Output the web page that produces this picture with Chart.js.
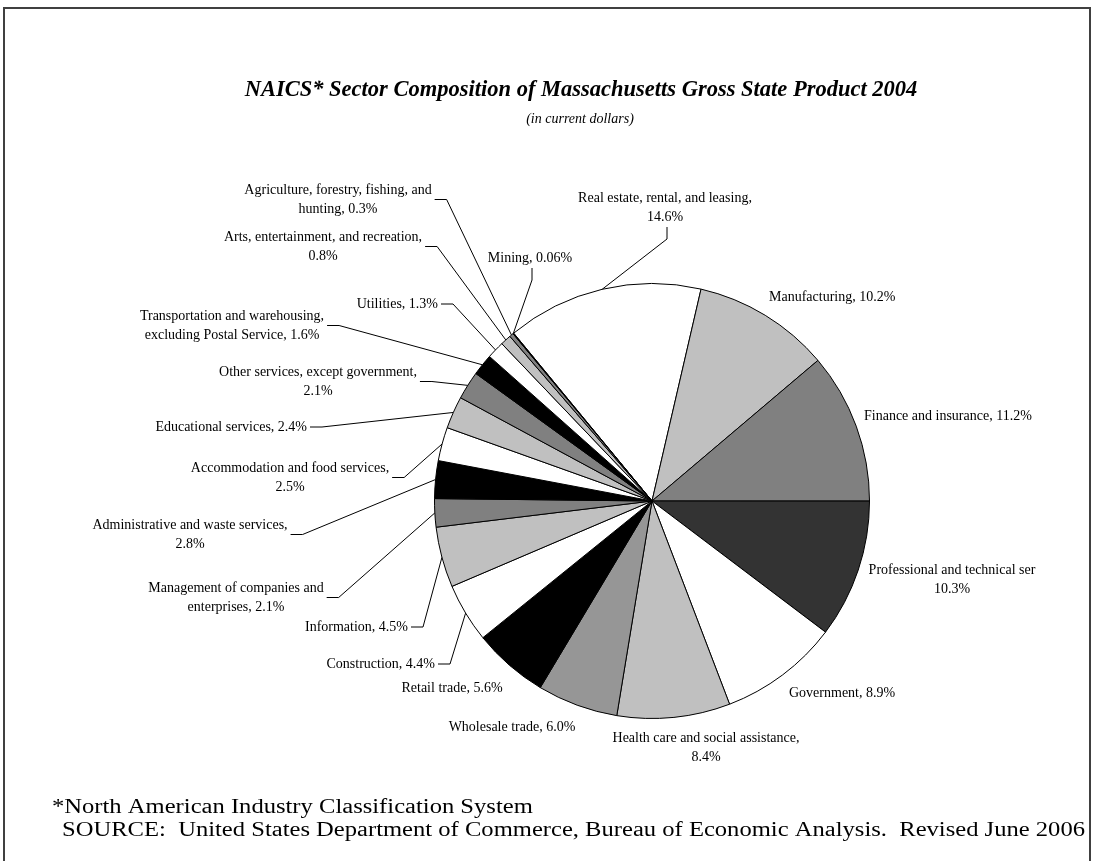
<!DOCTYPE html>
<html>
<head>
<meta charset="utf-8">
<script src="https://cdn.jsdelivr.net/npm/chart.js@4.4.1/dist/chart.umd.min.js"></script>
<style>
  html, body { margin: 0; padding: 0; background: #fff; }
  canvas { display: block; }
</style>
</head>
<body>
<canvas id="gspChart" width="1093" height="861"></canvas>
<script>
// data, in clockwise order from the top-left edge of the real estate slice
const sectors = [
  'Real estate, rental, and leasing',
  'Manufacturing',
  'Finance and insurance',
  'Professional and technical services',
  'Government',
  'Health care and social assistance',
  'Wholesale trade',
  'Retail trade',
  'Construction',
  'Information',
  'Management of companies and enterprises',
  'Administrative and waste services',
  'Accommodation and food services',
  'Educational services',
  'Other services, except government',
  'Transportation and warehousing, excluding Postal Service',
  'Utilities',
  'Arts, entertainment, and recreation',
  'Agriculture, forestry, fishing, and hunting',
  'Mining'
];
const shares = [14.6, 10.2, 11.2, 10.3, 8.9, 8.4, 6.0, 5.6, 4.4, 4.5,
                2.1, 2.8, 2.5, 2.4, 2.1, 1.6, 1.3, 0.8, 0.3, 0.06];

const fills = ['#ffffff', '#c0c0c0', '#808080', '#333333', '#ffffff', '#c0c0c0', '#969696',
               '#000000', '#ffffff', '#c0c0c0', '#808080', '#000000', '#ffffff', '#c0c0c0',
               '#808080', '#000000', '#ffffff', '#c0c0c0', '#808080', '#000000'];

// where each data label sits (text block centre / edge, first line middle)
// wrap: 'value' = value on 2nd line, number = words kept on 1st line
const labelLayout = [
  { x: 665, y: 198, align: 'center', wrap: 'value', stub: 'v' },
  { x: 769, y: 297, align: 'left' },
  { x: 864, y: 416, align: 'left' },
  { x: 952, y: 570, align: 'center', cut: 30 },
  { x: 789, y: 693, align: 'left' },
  { x: 706, y: 738, align: 'center', wrap: 'value' },
  { x: 512, y: 727, align: 'center' },
  { x: 452, y: 688, align: 'center' },
  { x: 435, y: 664, align: 'right', stub: 'h' },
  { x: 408, y: 627, align: 'right', stub: 'h' },
  { x: 236, y: 588, align: 'center', wrap: 4, stub: 'h' },
  { x: 190, y: 525, align: 'center', wrap: 'value', stub: 'h' },
  { x: 290, y: 468, align: 'center', wrap: 'value', stub: 'h' },
  { x: 307, y: 427, align: 'right', stub: 'h' },
  { x: 318, y: 372, align: 'center', wrap: 'value', stub: 'h' },
  { x: 232, y: 316, align: 'center', wrap: 3, stub: 'h' },
  { x: 438, y: 304, align: 'right', stub: 'h' },
  { x: 323, y: 237, align: 'center', wrap: 'value', stub: 'h' },
  { x: 338, y: 190, align: 'center', wrap: 4, stub: 'h' },
  { x: 530, y: 258, align: 'center', stub: 'v' }
];

const fmt = v => (v < 0.1 ? v.toFixed(2) : v.toFixed(1)) + '%';

function labelLines(i) {
  const lay = labelLayout[i];
  const name = sectors[i];
  const pct = fmt(shares[i]);
  if (lay.cut) return [name.slice(0, lay.cut), pct];
  if (lay.wrap === 'value') return [name + ',', pct];
  const full = name + ', ' + pct;
  if (typeof lay.wrap === 'number') {
    const words = full.split(' ');
    return [words.slice(0, lay.wrap).join(' '), words.slice(lay.wrap).join(' ')];
  }
  return [full];
}

const serif = '"Liberation Serif", "Times New Roman", serif';
const LINE_H = 19;

const decorations = {
  id: 'decorations',
  afterDraw(chart) {
    const ctx = chart.ctx;
    ctx.save();

    // frame
    ctx.strokeStyle = '#404040';
    ctx.lineWidth = 2;
    ctx.strokeRect(4, 8, 1086, 880);

    // title
    ctx.fillStyle = '#000';
    ctx.textAlign = 'center';
    ctx.textBaseline = 'middle';
    ctx.font = 'italic bold 22.5px ' + serif;
    ctx.fillText('NAICS* Sector Composition of Massachusetts Gross State Product 2004', 581, 90);
    ctx.font = 'italic 14px ' + serif;
    ctx.fillText('(in current dollars)', 580, 119);

    // data labels with leader lines
    const meta = chart.getDatasetMeta(0);
    ctx.font = '14px ' + serif;
    ctx.lineWidth = 1;
    ctx.strokeStyle = '#000';
    meta.data.forEach((arc, i) => {
      const lay = labelLayout[i];
      const lines = labelLines(i);
      const widths = lines.map(t => ctx.measureText(t).width);
      const maxW = Math.max(...widths);
      ctx.textAlign = lay.align;
      lines.forEach((t, k) => ctx.fillText(t, lay.x, lay.y + k * LINE_H));
      if (!lay.stub) return;

      const mid = (arc.startAngle + arc.endAngle) / 2;
      const px = arc.x + arc.outerRadius * Math.cos(mid);
      const py = arc.y + arc.outerRadius * Math.sin(mid);
      let sx, sy, ex, ey;
      if (lay.stub === 'h') {
        const right = lay.align === 'right' ? lay.x : lay.x + maxW / 2;
        sx = right + 3;
        sy = lay.y + (lines.length - 1) * LINE_H / 2;
        ex = sx + 12;
        ey = sy;
      } else {
        sx = lay.x + 2;
        sy = lay.y + (lines.length - 1) * LINE_H + 10;
        ex = sx;
        ey = sy + 12;
      }
      ctx.beginPath();
      ctx.moveTo(sx, sy);
      ctx.lineTo(ex, ey);
      ctx.lineTo(px, py);
      ctx.stroke();
    });

    // footnotes: wide serif text, stretched to the width used in the original
    const note1 = '*North American Industry Classification System';
    const note2 = 'SOURCE:  United States Department of Commerce, Bureau of Economic Analysis.  Revised June 2006';
    ctx.textAlign = 'left';
    ctx.font = '20px ' + serif;
    const sx = 1023 / ctx.measureText(note2).width;
    ctx.save();
    ctx.scale(sx, 1);
    ctx.fillText(note1, 52 / sx, 808);
    ctx.fillText(note2, 62 / sx, 831);
    ctx.restore();

    ctx.restore();
  }
};

new Chart(document.getElementById('gspChart'), {
  type: 'pie',
  data: {
    labels: sectors,
    datasets: [{
      data: shares,
      backgroundColor: fills,
      borderColor: '#000',
      borderWidth: 1
    }]
  },
  options: {
    responsive: false,
    animation: false,
    devicePixelRatio: 1,
    rotation: -39.5,
    layout: { padding: { left: 434, right: 223, top: 283, bottom: 142 } },
    plugins: {
      legend: { display: false },
      tooltip: { enabled: false },
      title: { display: false }
    }
  },
  plugins: [decorations]
});
</script>
</body>
</html>
